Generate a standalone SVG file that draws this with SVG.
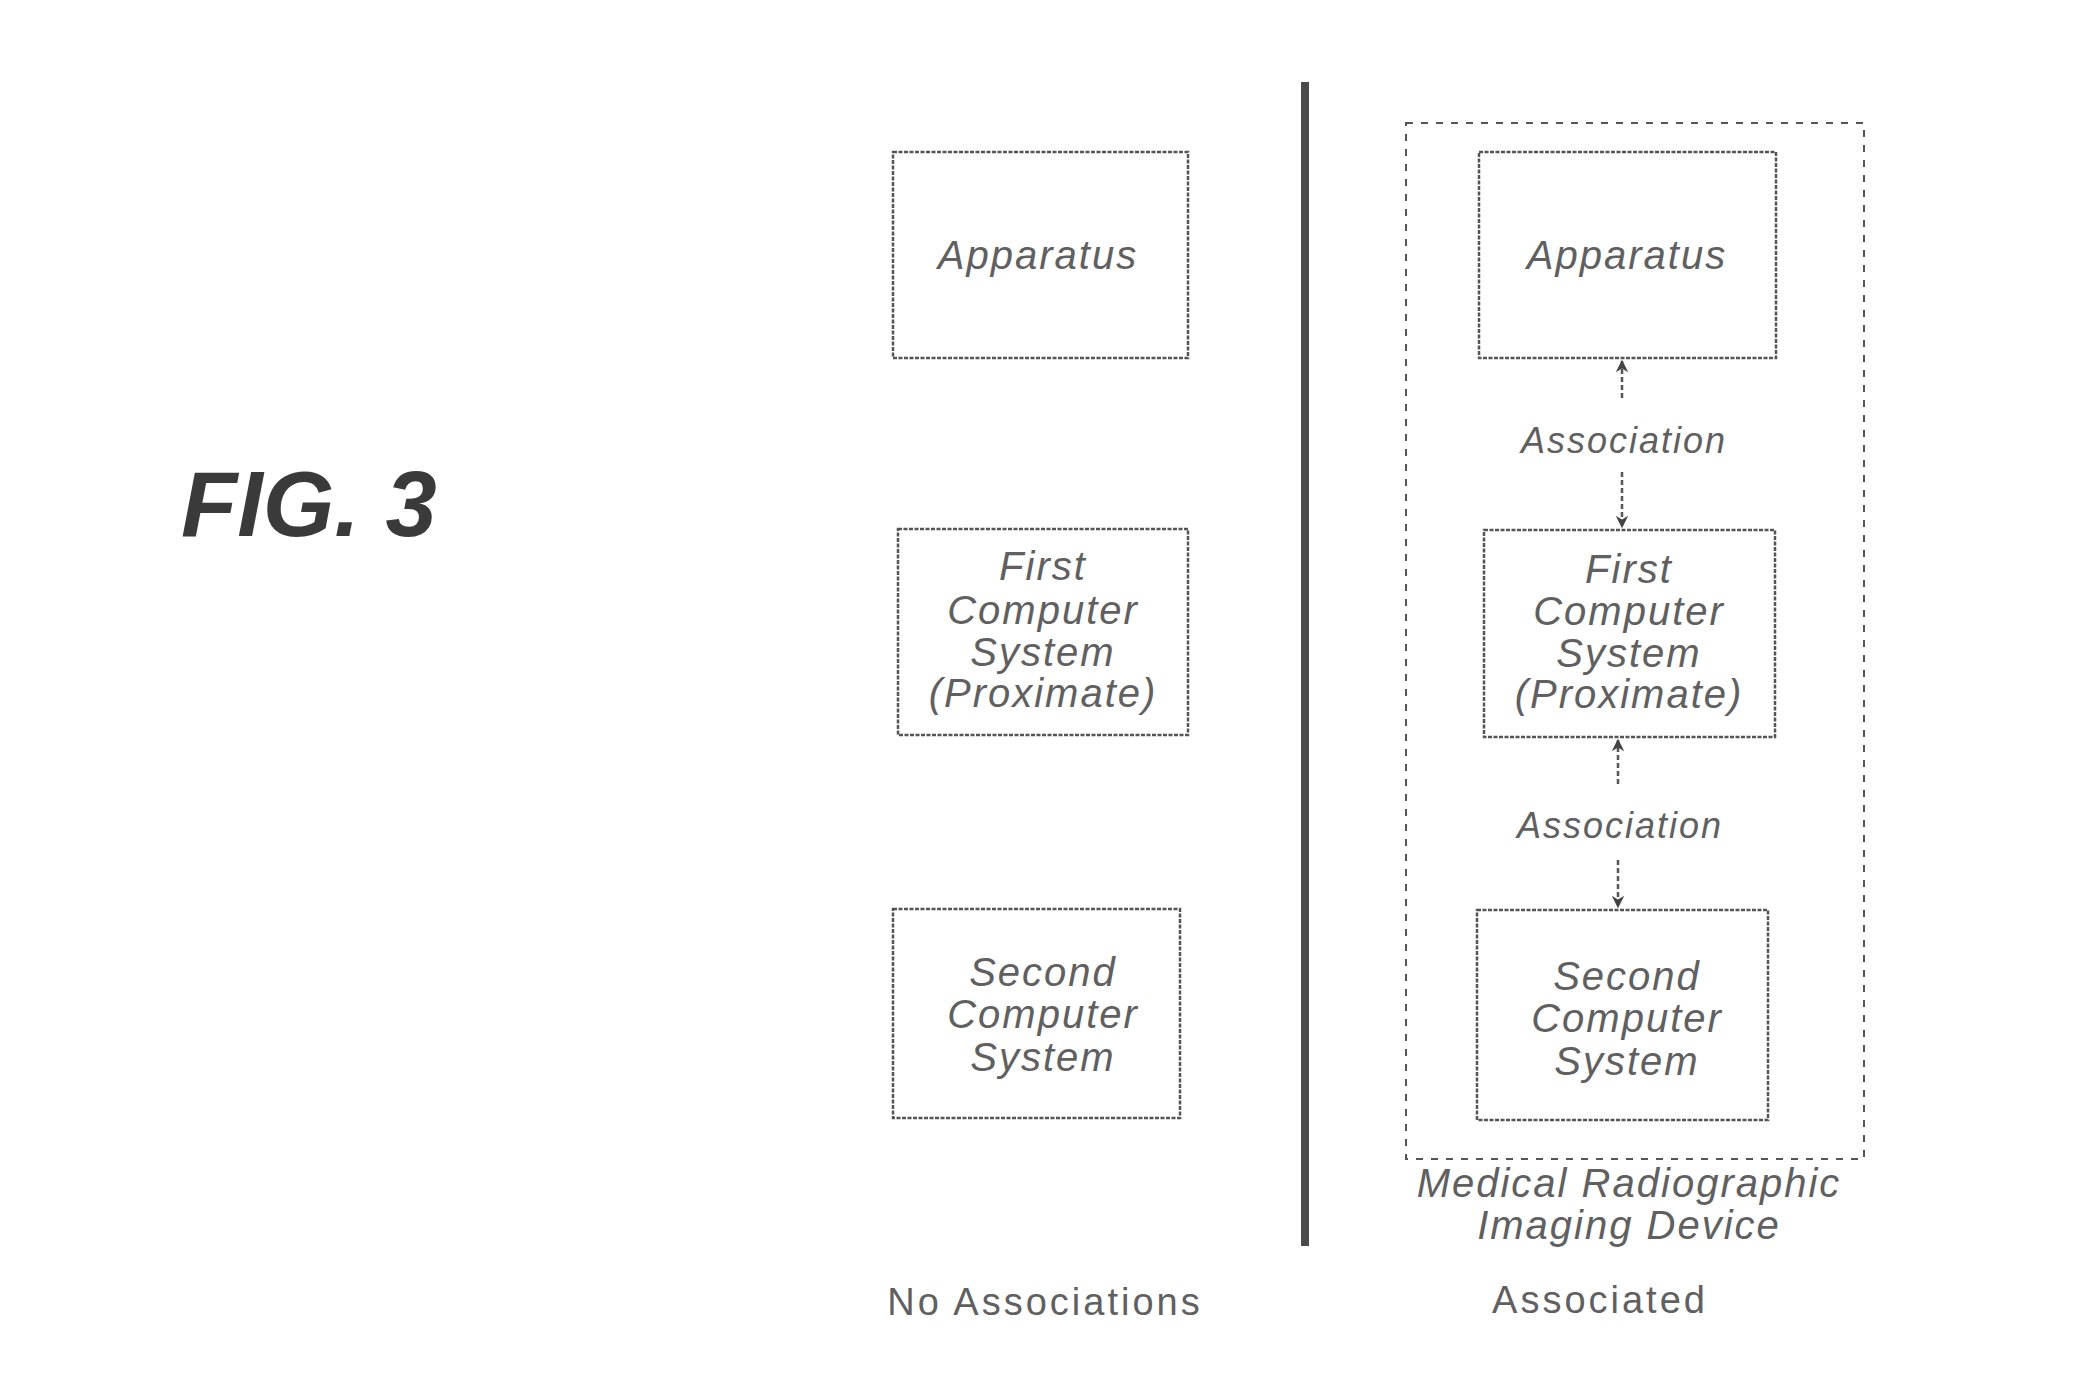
<svg xmlns="http://www.w3.org/2000/svg" width="2074" height="1385" viewBox="0 0 2074 1385">
<defs>
<style>
.box{fill:none;stroke:#555;stroke-width:2.5;stroke-dasharray:4 1.5}
.lbl{font-family:"Liberation Sans",Arial,sans-serif;font-style:italic;font-size:40px;letter-spacing:2px;fill:#606060;text-anchor:middle}
.assoc{font-size:36px}
.cap{font-family:"Liberation Sans",Arial,sans-serif;font-size:38px;letter-spacing:3px;fill:#606060;text-anchor:middle}
.conn{stroke:#555;stroke-width:2.5;stroke-dasharray:5 3;fill:none}
</style>
<marker id="ah" viewBox="0 0 10 10" refX="9" refY="5" markerWidth="5" markerHeight="5" orient="auto">
<path d="M0,0 L10,5 L0,10 L3,5 Z" fill="#444"/>
</marker>
</defs>
<rect width="2074" height="1385" fill="#fff"/>
<text x="181" y="536" font-family="Liberation Sans,Arial,sans-serif" font-weight="bold" font-style="italic" font-size="92" fill="#3a3a3a">FIG. 3</text>
<line x1="1305" y1="82" x2="1305" y2="1246" stroke="#4a4a4a" stroke-width="8"/>

<g id="left-apparatus">
<rect class="box" x="893" y="152" width="295" height="206"/>
<text class="lbl" x="1038" y="269">Apparatus</text>
</g>
<g id="left-first">
<rect class="box" x="898" y="529" width="290" height="206"/>
<text class="lbl"><tspan x="1043" y="580">First</tspan><tspan x="1043" y="624">Computer</tspan><tspan x="1043" y="666">System</tspan><tspan x="1043" y="707">(Proximate)</tspan></text>
</g>
<g id="left-second">
<rect class="box" x="893" y="909" width="287" height="209"/>
<text class="lbl"><tspan x="1043" y="986">Second</tspan><tspan x="1043" y="1028">Computer</tspan><tspan x="1043" y="1071">System</tspan></text>
</g>
<text class="cap" x="1045" y="1315">No Associations</text>

<g id="device">
<rect x="1406" y="123" width="458" height="1036" fill="none" stroke="#555" stroke-width="2" stroke-dasharray="7 8"/>
<text class="lbl"><tspan x="1629" y="1197">Medical Radiographic</tspan><tspan x="1629" y="1239">Imaging Device</tspan></text>
</g>
<g id="right-apparatus">
<rect class="box" x="1479" y="152" width="297" height="206"/>
<text class="lbl" x="1627" y="269">Apparatus</text>
</g>
<g id="right-first">
<rect class="box" x="1484" y="530" width="291" height="207"/>
<text class="lbl"><tspan x="1629" y="583">First</tspan><tspan x="1629" y="625">Computer</tspan><tspan x="1629" y="667">System</tspan><tspan x="1629" y="708">(Proximate)</tspan></text>
</g>
<g id="right-second">
<rect class="box" x="1477" y="910" width="291" height="210"/>
<text class="lbl"><tspan x="1627" y="990">Second</tspan><tspan x="1627" y="1032">Computer</tspan><tspan x="1627" y="1075">System</tspan></text>
</g>
<text class="cap" x="1600" y="1313">Associated</text>

<g id="connectors">
<line class="conn" x1="1622" y1="398" x2="1622" y2="361" marker-end="url(#ah)"/>
<text class="lbl assoc" x="1624" y="453">Association</text>
<line class="conn" x1="1622" y1="472" x2="1622" y2="527" marker-end="url(#ah)"/>
<line class="conn" x1="1618" y1="784" x2="1618" y2="740" marker-end="url(#ah)"/>
<text class="lbl assoc" x="1620" y="838">Association</text>
<line class="conn" x1="1618" y1="860" x2="1618" y2="907" marker-end="url(#ah)"/>
</g>
</svg>
